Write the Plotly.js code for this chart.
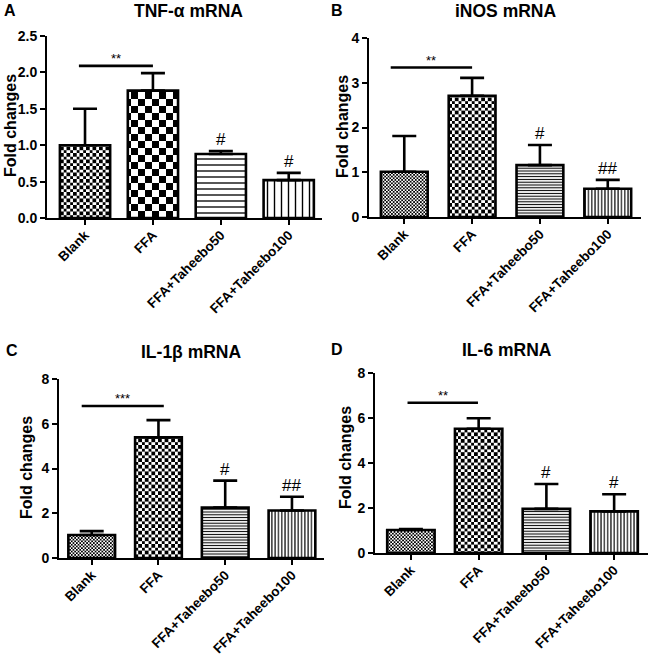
<!DOCTYPE html>
<html>
<head>
<meta charset="utf-8">
<script src="https://cdn.plot.ly/plotly-3.0.1.min.js"></script>
<style>html,body{margin:0;padding:0;background:#fff;}#g{width:649px;height:655px;}</style>
</head>
<body>
<div id="g"></div>
<script>
// ---------- data ----------
const categories = ['Blank', 'FFA', 'FFA+Taheebo50', 'FFA+Taheebo100'];

const tnfMean  = [1.00, 1.75, 0.88, 0.52];
const tnfErr   = [0.50, 0.24, 0.04, 0.10];
const inosMean = [1.01, 2.71, 1.16, 0.63];
const inosErr  = [0.80, 0.40, 0.45, 0.20];
const il1bMean = [1.03, 5.39, 2.25, 2.12];
const il1bErr  = [0.17, 0.77, 1.21, 0.62];
const il6Mean  = [1.02, 5.52, 1.96, 1.85];
const il6Err   = [0.04, 0.47, 1.11, 0.76];

const titles = ['TNF-α mRNA', 'iNOS mRNA', 'IL-1β mRNA', 'IL-6 mRNA'];
const panelLetters = ['A', 'B', 'C', 'D'];
const sigStars = ['**', '**', '***', '**'];
const sigLevel = [2.09, 3.34, 6.79, 6.68];
const hashA = ['', '', '#', '#'];
const hashB = ['', '', '#', '##'];
const hashC = ['', '', '#', '##'];
const hashD = ['', '', '#', '#'];
const yTickVals = [[0, 0.5, 1, 1.5, 2, 2.5], [0, 1, 2, 3, 4], [0, 2, 4, 6, 8], [0, 2, 4, 6, 8]];
const yTickText = [['0.0', '0.5', '1.0', '1.5', '2.0', '2.5'], ['0', '1', '2', '3', '4'], ['0', '2', '4', '6', '8'], ['0', '2', '4', '6', '8']];

// ---------- layout config (pixels in a 649x655 canvas) ----------
const W = 649, H = 655;
const px = x => x / W;
const py = y => 1 - y / H;
const FONT = 'Liberation Sans, Arial, Helvetica, sans-serif';

const panels = [
  {mean: tnfMean, err: tnfErr, hash: hashA, dom: [47, 322, 36, 218], xr: [-0.56, 3.49], yr: [0, 2.5],
   bw: 0.74, sigX: [-0.09, 1.0], letter: [10, 10], title: [188, 11], ytitle: [10, 126],
   pats: [{shape: '.', size: 6.5}, {shape: '.', size: 14}, {shape: '-', size: 6, solidity: 0.22}, {shape: '|', size: 7, solidity: 0.2}]},
  {mean: inosMean, err: inosErr, hash: hashB, dom: [369, 641, 38, 217], xr: [-0.52, 3.49], yr: [0, 4],
   bw: 0.69, sigX: [-0.2, 1.0], letter: [337, 10], title: [505, 11], ytitle: [342, 127],
   pats: [{shape: '.', size: 3.4}, {shape: '.', size: 6.6}, {shape: '-', size: 2.8, solidity: 0.38}, {shape: '|', size: 3.3, solidity: 0.35}]},
  {mean: il1bMean, err: il1bErr, hash: hashC, dom: [59, 324, 379, 558], xr: [-0.49, 3.48], yr: [0, 8],
   bw: 0.7, sigX: [-0.15, 1.08], letter: [12, 350], title: [191, 352], ytitle: [27, 468],
   pats: [{shape: '.', size: 3.4}, {shape: '.', size: 6.6}, {shape: '-', size: 2.8, solidity: 0.38}, {shape: '|', size: 3.3, solidity: 0.35}]},
  {mean: il6Mean, err: il6Err, hash: hashD, dom: [375, 648, 373, 553], xr: [-0.53, 3.5], yr: [0, 8],
   bw: 0.7, sigX: [-0.05, 0.99], letter: [337, 349], title: [507, 350], ytitle: [345, 458],
   pats: [{shape: '.', size: 3.4}, {shape: '.', size: 6.6}, {shape: '-', size: 2.8, solidity: 0.38}, {shape: '|', size: 3.3, solidity: 0.35}]}
];

const traces = [];
const layout = {
  width: W, height: H,
  margin: {l: 0, r: 0, t: 0, b: 0},
  paper_bgcolor: 'white', plot_bgcolor: 'white',
  showlegend: false,
  font: {family: FONT, color: 'black'},
  annotations: [], shapes: []
};

panels.forEach((p, i) => {
  const n = i + 1;
  const xa = n === 1 ? 'x' : 'x' + n;
  const ya = n === 1 ? 'y' : 'y' + n;
  const xk = n === 1 ? 'xaxis' : 'xaxis' + n;
  const yk = n === 1 ? 'yaxis' : 'yaxis' + n;

  categories.forEach((c, k) => {
    const pat = p.pats[k];
    traces.push({
      type: 'bar', x: [k], y: [p.mean[k]], xaxis: xa, yaxis: ya, width: p.bw,
      marker: {
        color: 'white',
        line: {color: 'black', width: 2.6},
        pattern: {shape: pat.shape, size: pat.size, solidity: pat.solidity == null ? 0.5 : pat.solidity,
                  fgcolor: 'black', bgcolor: 'white', fillmode: 'replace'}
      },
      error_y: {type: 'data', symmetric: false, array: [p.err[k]], arrayminus: [0],
                color: 'black', thickness: 2.6, width: 12},
      hoverinfo: 'skip'
    });
  });

  layout[xk] = {
    domain: [px(p.dom[0]), px(p.dom[1])], anchor: ya, range: p.xr,
    tickvals: [0, 1, 2, 3], ticktext: categories, tickangle: -45,
    ticks: 'outside', ticklen: 5, tickwidth: 2, tickcolor: 'black', ticklabelstandoff: -3,
    showline: true, linewidth: 2, linecolor: 'black', showgrid: false, zeroline: false,
    tickfont: {family: FONT, size: 13.5, weight: 'bold', color: 'black'}, fixedrange: true
  };
  layout[yk] = {
    domain: [py(p.dom[3]), py(p.dom[2])], anchor: xa, range: p.yr,
    tickvals: yTickVals[i], ticktext: yTickText[i],
    ticks: 'outside', ticklen: 5, tickwidth: 2, tickcolor: 'black',
    showline: true, linewidth: 2, linecolor: 'black', showgrid: false, zeroline: false,
    tickfont: {family: FONT, size: 14, weight: 'bold', color: 'black'}, fixedrange: true
  };

  // significance bracket
  layout.shapes.push({type: 'line', xref: xa, yref: ya, x0: p.sigX[0], x1: p.sigX[1],
                      y0: sigLevel[i], y1: sigLevel[i], line: {color: 'black', width: 2.6}});
  layout.annotations.push({xref: xa, yref: ya, x: (p.sigX[0] + p.sigX[1]) / 2, y: sigLevel[i],
                           yanchor: 'bottom', yshift: -2, text: sigStars[i], showarrow: false,
                           font: {family: FONT, size: 13, color: 'black'}});
  // hash marks above error bars
  categories.forEach((c, k) => {
    if (!p.hash[k]) return;
    layout.annotations.push({xref: xa, yref: ya, x: k, y: p.mean[k] + p.err[k],
                             yanchor: 'bottom', yshift: 0, text: p.hash[k], showarrow: false,
                             font: {family: FONT, size: 17, color: 'black'}});
  });
  // panel letter, title, y title
  layout.annotations.push({xref: 'paper', yref: 'paper', x: px(p.letter[0]), y: py(p.letter[1]),
                           xanchor: 'center', yanchor: 'middle', text: '<b>' + panelLetters[i] + '</b>',
                           showarrow: false, font: {family: FONT, size: 16, color: 'black'}});
  layout.annotations.push({xref: 'paper', yref: 'paper', x: px(p.title[0]), y: py(p.title[1]),
                           xanchor: 'center', yanchor: 'middle', text: '<b>' + titles[i] + '</b>',
                           showarrow: false, font: {family: FONT, size: 17.5, color: 'black'}});
  layout.annotations.push({xref: 'paper', yref: 'paper', x: px(p.ytitle[0]), y: py(p.ytitle[1]),
                           xanchor: 'center', yanchor: 'middle', textangle: -90, text: '<b>Fold changes</b>',
                           showarrow: false, font: {family: FONT, size: 16, color: 'black'}});
});

// turn the dot fill patterns into checkerboards (GraphPad-style fill)
function checkerize(gd) {
  gd.querySelectorAll('pattern').forEach(pt => {
    const circ = pt.querySelector('circle');
    if (!circ) return;
    const s = parseFloat(pt.getAttribute('width'));
    const c = s / 2;
    const ns = 'http://www.w3.org/2000/svg';
    const path = document.createElementNS(ns, 'path');
    path.setAttribute('d', 'M0,0h' + c + 'v' + c + 'h' + (-c) + 'Z' + 'M' + c + ',' + c + 'h' + c + 'v' + c + 'h' + (-c) + 'Z');
    path.setAttribute('fill', 'black');
    path.setAttribute('shape-rendering', 'crispEdges');
    circ.parentNode.replaceChild(path, circ);
  });
}

Plotly.newPlot('g', traces, layout, {staticPlot: true, displayModeBar: false}).then(gd => checkerize(gd));
</script>
</body>
</html>
